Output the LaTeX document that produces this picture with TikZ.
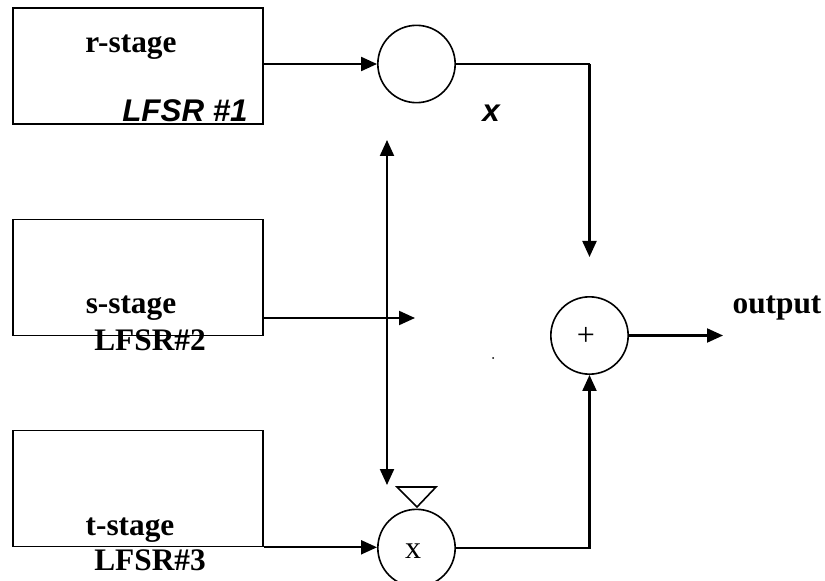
\documentclass[tikz,border=0pt]{standalone}
\usepackage{fontspec}
\setmainfont{Liberation Serif}
\newfontfamily\arialfont{Liberation Sans}
\usetikzlibrary{arrows.meta}
\begin{document}
\begin{tikzpicture}[x=0.75pt,y=-0.75pt,every node/.style={inner sep=1pt},>={Triangle[length=12pt,width=10.5pt]}]
\tikzstyle{arrow}=[draw,line width=1.6pt,->]
\tikzstyle{reg}=[draw,line width=1.2pt,minimum width=187.5pt,minimum height=87pt]
\tikzstyle{op}=[draw,circle,line width=1.2pt,minimum size=58pt]
\tikzstyle{lbl}=[font=\fontsize{23.5}{27}\selectfont\bfseries,anchor=base]
\tikzstyle{sym}=[font=\fontsize{24}{28}\selectfont,anchor=base]
\useasboundingbox (0,0) rectangle (825,581);

\node[reg](r1) at (138,66){};
\node[reg](r2) at (138,277.5){};
\node[reg](r3) at (138,488.5){};

\node[lbl](r1t) at (131,53){r-stage};
\node[lbl,font=\fontsize{23.5}{27}\selectfont\arialfont\bfseries\itshape](r1n) at (185,122){LFSR \#1};
\node[lbl](r2t) at (131,313){s-stage};
\node[lbl](r2n) at (150,350){LFSR\#2};
\node[lbl](r3t) at (130,535){t-stage};
\node[lbl](r3n) at (150,570){LFSR\#3};

\node[op](m1) at (416.5,64){};
\node[op](m3) at (416.5,548){};
\node[op](add) at (589.5,335.5){};
\node[sym](m3x) at (413,558){x};
\node[sym](addp) at (586,345){+};

\node[lbl,font=\fontsize{23.5}{27}\selectfont\arialfont\bfseries\itshape](xl) at (491,122){x};
\node[lbl](out) at (777,313){output};

\coordinate(t1) at (589.5,257);
\coordinate(t2) at (415,318);
\coordinate(c1) at (387,140);
\coordinate(c2) at (387,485);
\coordinate(o1) at (723,335.5);

\path[arrow](r1.east |- m1.west)--(m1.west);
\path[draw,line width=1.2pt](m1.east)--(t1 |- m1.east);
\path[arrow](t1 |- m1.east)--(t1);
\path[arrow](r2.east |- t2)--(t2);
\path[arrow,<->](c1)--(c2);
\path[arrow](r3.south east)--(r3.south east -| m3.west);
\path[arrow](m3.east)-|(add.south);
\path[arrow](add.east)--(o1);

\draw[line width=1.2pt](397,487)--(436,487)--(417,507)--cycle;
\fill(493,358) circle (1);
\end{tikzpicture}
\end{document}
